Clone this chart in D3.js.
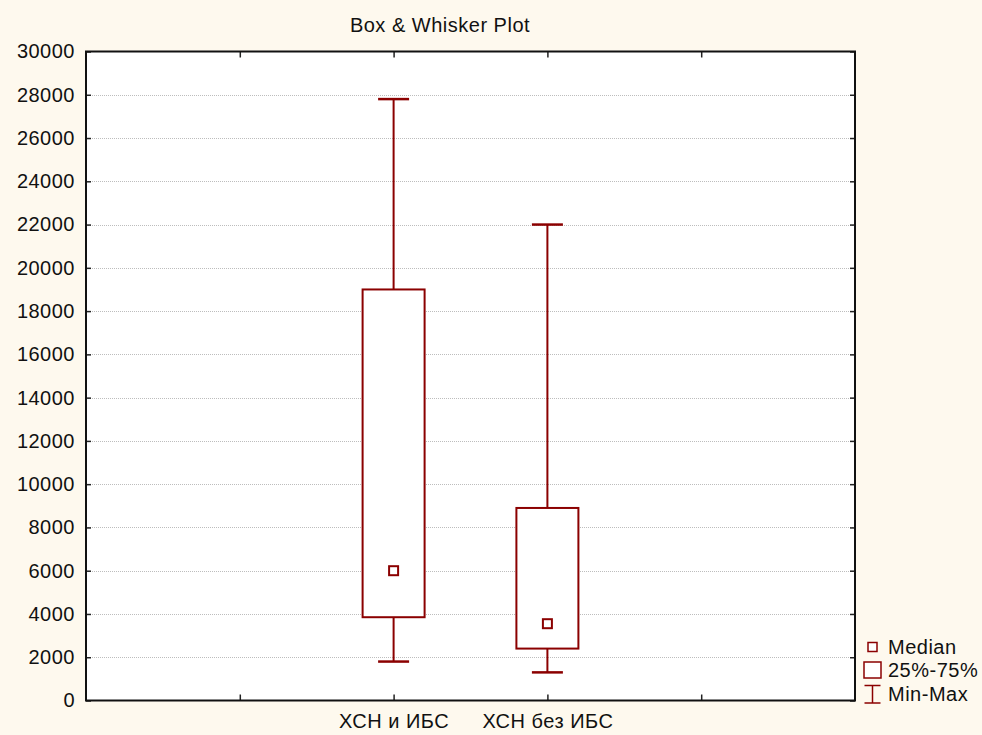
<!DOCTYPE html>
<html>
<head>
<meta charset="utf-8">
<script src="https://cdn.jsdelivr.net/npm/d3@7"></script>
<style>
  html, body { margin: 0; padding: 0; background: #fef9ee; }
  svg { display: block; }
  text { font-family: "Liberation Sans", Arial, sans-serif; fill: #111; letter-spacing: 0.5px; }
</style>
</head>
<body>
<svg id="chart" width="982" height="735"></svg>
<script>
// ---- data ----
const categories = ["ХСН и ИБС", "ХСН без ИБС"];
const minValues    = [1800, 1300];
const q1Values     = [3850, 2400];
const medianValues = [6000, 3550];
const q3Values     = [19000, 8900];
const maxValues    = [27800, 22000];
const yTicks = [0, 2000, 4000, 6000, 8000, 10000, 12000, 14000, 16000, 18000, 20000, 22000, 24000, 26000, 28000, 30000];
const legendLabels = ["Median", "25%-75%", "Min-Max"];
const chartTitle = "Box & Whisker Plot";

// ---- layout ----
const W = 982, H = 735;
const pLeft = 86, pRight = 855, pTop = 51.5, pBottom = 700.5;
const color = "#8b0000";
const fontSize = 20;

const svg = d3.select("#chart");
svg.append("rect").attr("width", W).attr("height", H).attr("fill", "#fef9ee");

const x = d3.scaleLinear().domain([0, 5]).range([pLeft, pRight]);
const catPos = [2, 3];
const y = d3.scaleLinear().domain([0, 30000]).range([pBottom, pTop]);

// plot area
svg.append("rect").attr("x", pLeft).attr("y", pTop)
  .attr("width", pRight - pLeft).attr("height", pBottom - pTop)
  .attr("fill", "#fff");

// gridlines
svg.append("g").selectAll("line")
  .data(yTicks.filter(t => t > 0 && t < 30000))
  .join("line")
  .attr("x1", pLeft).attr("x2", pRight)
  .attr("y1", d => Math.round(y(d)) + 0.5).attr("y2", d => Math.round(y(d)) + 0.5)
  .attr("stroke", "#bdbdbd").attr("stroke-width", 1)
  .attr("stroke-dasharray", "1,1");

// y axis left
const yAxis = d3.axisLeft(y).tickValues(yTicks).tickFormat(d3.format("d"))
  .tickSizeInner(-5).tickSizeOuter(0).tickPadding(11);
const gy = svg.append("g").attr("transform", `translate(${pLeft},0)`).call(yAxis);
gy.select(".domain").remove();
gy.selectAll("line").attr("stroke", "#222").attr("stroke-width", 1.5);
gy.selectAll("text").style("font-size", fontSize + "px")
  .style("font-family", '"Liberation Sans", Arial, sans-serif').attr("fill", "#111");

// y axis right ticks
const yAxisR = d3.axisRight(y).tickValues(yTicks).tickFormat("")
  .tickSizeInner(-5).tickSizeOuter(0);
const gyr = svg.append("g").attr("transform", `translate(${pRight},0)`).call(yAxisR);
gyr.select(".domain").remove();
gyr.selectAll("line").attr("stroke", "#222").attr("stroke-width", 1.5);

// x axis bottom
const xAxis = d3.axisBottom(x).tickValues([1, 2, 3, 4])
  .tickFormat(d => { const i = catPos.indexOf(d); return i >= 0 ? categories[i] : ""; })
  .tickSizeInner(-6).tickSizeOuter(0).tickPadding(13);
const gx = svg.append("g").attr("transform", `translate(0,${pBottom})`).call(xAxis);
gx.select(".domain").remove();
gx.selectAll("line").attr("stroke", "#222").attr("stroke-width", 1.5);
gx.selectAll("text").style("font-size", fontSize + "px")
  .style("font-family", '"Liberation Sans", Arial, sans-serif').attr("fill", "#111");

// x axis top ticks
const xAxisT = d3.axisTop(x).tickValues([1, 2, 3, 4]).tickFormat("")
  .tickSizeInner(-6).tickSizeOuter(0);
const gxt = svg.append("g").attr("transform", `translate(0,${pTop})`).call(xAxisT);
gxt.select(".domain").remove();
gxt.selectAll("line").attr("stroke", "#222").attr("stroke-width", 1.5);

// border
svg.append("rect").attr("x", pLeft).attr("y", pTop)
  .attr("width", pRight - pLeft).attr("height", pBottom - pTop)
  .attr("fill", "none").attr("stroke", "#111").attr("stroke-width", 2);

// boxes
const boxW = 62, capW = 31, medS = 9;
const data = categories.map((c, i) => ({
  c, pos: catPos[i], min: minValues[i], q1: q1Values[i],
  med: medianValues[i], q3: q3Values[i], max: maxValues[i]
}));
const g = svg.append("g").attr("stroke", color).attr("stroke-width", 2).attr("fill", "none");
data.forEach(d => {
  const cx = x(d.pos);
  g.append("line").attr("x1", cx).attr("x2", cx).attr("y1", y(d.max)).attr("y2", y(d.q3));
  g.append("line").attr("x1", cx).attr("x2", cx).attr("y1", y(d.q1)).attr("y2", y(d.min));
  g.append("line").attr("x1", cx - capW / 2).attr("x2", cx + capW / 2).attr("y1", y(d.max)).attr("y2", y(d.max)).attr("stroke-width", 2.5);
  g.append("line").attr("x1", cx - capW / 2).attr("x2", cx + capW / 2).attr("y1", y(d.min)).attr("y2", y(d.min)).attr("stroke-width", 2.5);
  g.append("rect").attr("x", cx - boxW / 2).attr("y", y(d.q3))
    .attr("width", boxW).attr("height", y(d.q1) - y(d.q3)).attr("fill", "#fff");
  g.append("rect").attr("x", cx - medS / 2).attr("y", y(d.med) - medS / 2)
    .attr("width", medS).attr("height", medS).attr("fill", "#fff");
});

// title
svg.append("text").attr("x", 440).attr("y", 32).attr("text-anchor", "middle")
  .style("font-size", fontSize + "px").text(chartTitle);

// legend
const lx = 872.5;
const lg = svg.append("g");
const ly = [647, 670, 694];
lg.append("rect").attr("x", lx - 4.5).attr("y", ly[0] - 4.5).attr("width", 9).attr("height", 9)
  .attr("fill", "#fff").attr("stroke", color).attr("stroke-width", 1.5);
lg.append("rect").attr("x", lx - 8.5).attr("y", ly[1] - 8).attr("width", 17).attr("height", 16)
  .attr("fill", "#fff").attr("stroke", color).attr("stroke-width", 1.5);
lg.append("line").attr("x1", lx).attr("x2", lx).attr("y1", ly[2] - 9).attr("y2", ly[2] + 9)
  .attr("stroke", color).attr("stroke-width", 1.5);
lg.append("line").attr("x1", lx - 8).attr("x2", lx + 8).attr("y1", ly[2] - 8.5).attr("y2", ly[2] - 8.5)
  .attr("stroke", color).attr("stroke-width", 1.5);
lg.append("line").attr("x1", lx - 8).attr("x2", lx + 8).attr("y1", ly[2] + 9).attr("y2", ly[2] + 9)
  .attr("stroke", color).attr("stroke-width", 1.5);
lg.selectAll("text.lab").data(legendLabels).join("text").attr("class", "lab")
  .attr("x", 888).attr("y", (d, i) => ly[i] + 6.5)
  .style("font-size", fontSize + "px").text(d => d);
</script>
</body>
</html>
